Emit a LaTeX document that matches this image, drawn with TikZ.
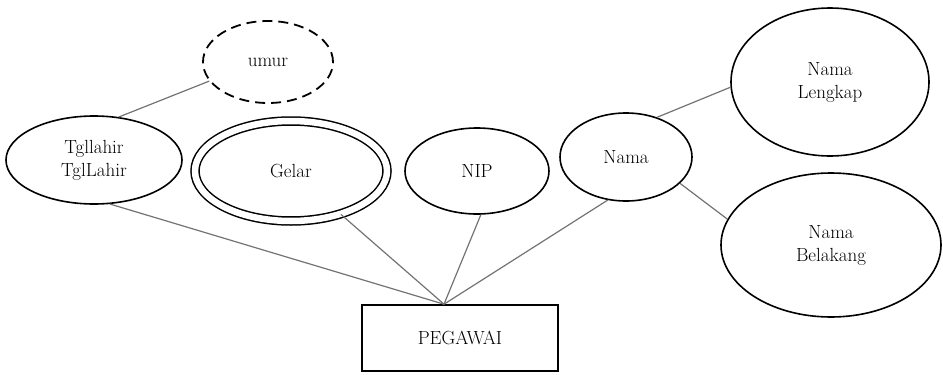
\documentclass[tikz,border=0pt]{standalone}
\usetikzlibrary{shapes.geometric, calc}

\begin{document}
\begin{tikzpicture}[
    x=1pt, y=-1pt,
    font=\fontsize{19}{23}\selectfont,
    attr/.style={draw, ellipse, line width=1.6pt, inner sep=0pt, align=center},
    derived/.style={attr, line width=1.8pt, dash pattern=on 10pt off 6pt},
    multi/.style={attr, double, double distance=6.5pt, line width=1.5pt},
    entity/.style={draw, rectangle, line width=1.6pt, minimum width=196pt,
                   minimum height=66pt},
    link/.style={black!55, line width=1.2pt},
]
    \useasboundingbox (0,0) rectangle (943,375);

    %==================== ATTRIBUTES ====================
    \node[derived, minimum width=130pt, minimum height=82pt] (umur) at (268,62) {umur};
    \node[attr, minimum width=176pt, minimum height=88pt] (tgl) at (94,160)
        {Tgllahir\\TglLahir};
    \node[multi, minimum width=192pt, minimum height=100pt] (gelar) at (291,171) {Gelar};
    \node[attr, minimum width=144pt, minimum height=86pt] (nip) at (477,171) {NIP};
    \node[attr, minimum width=132pt, minimum height=88pt] (nama) at (626,157) {Nama};

    %==================== NAME PARTS ====================
    \node[attr, minimum width=198pt, minimum height=148pt] (lengkap) at (830,82)
        {Nama\\Lengkap};
    \node[attr, minimum width=220pt, minimum height=144pt] (belakang) at (831,245)
        {Nama\\Belakang};

    %==================== ENTITY ====================
    \node[entity] (peg) at (460,338) {PEGAWAI};
    \coordinate (hub) at ([xshift=-16pt]peg.north);

    %==================== LINKS ====================
    \draw[link] (umur.198) -- (tgl.60);
    \draw[link] (tgl.-70) -- (hub);
    \draw[link] (gelar.-41) -- (hub);
    \draw[link] (nip.-85) -- (hub);
    \draw[link] (nama.-113) -- (hub);
    \draw[link] (nama.52) -- (lengkap.183);
    \draw[link] (nama.-26) -- (belakang.166);

\end{tikzpicture}
\end{document}
